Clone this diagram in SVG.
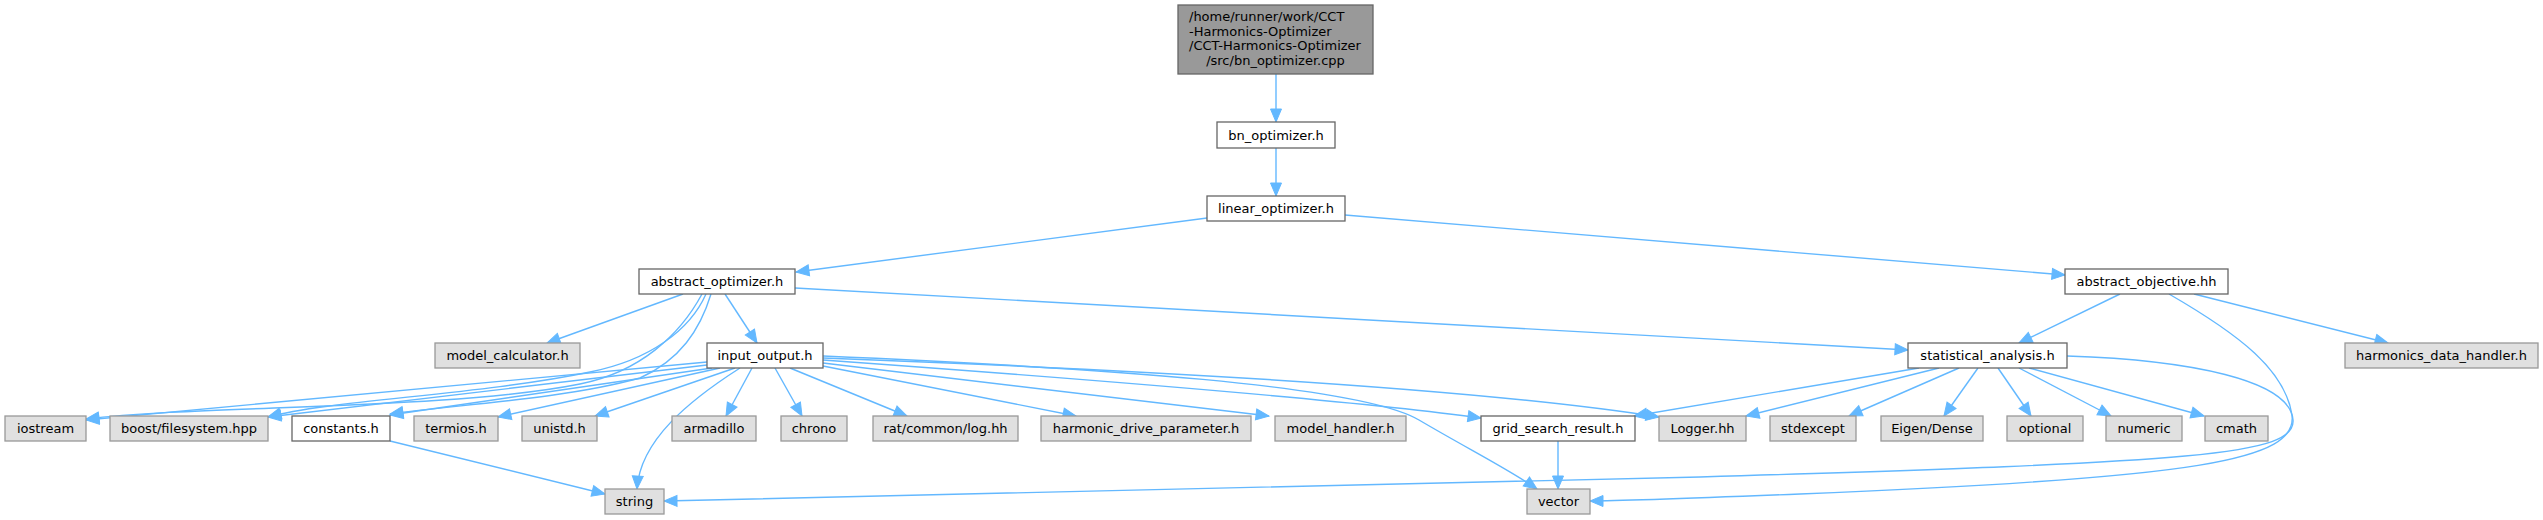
<svg xmlns="http://www.w3.org/2000/svg" width="2543" height="520" viewBox="0 0 2543 520">
<style>
text{font-family:"DejaVu Sans","Liberation Sans",sans-serif;font-size:13px;fill:#000;text-anchor:middle}
.w{fill:#ffffff;stroke:#666666;stroke-width:1.3}
.g{fill:#e0e0e0;stroke:#999999;stroke-width:1.3}
.r{fill:#999999;stroke:#666666;stroke-width:1.3}
#edges path{fill:none;stroke:#63b8ff;stroke-width:1.4;marker-end:url(#ah)}
</style>
<defs>
<marker id="ah" markerUnits="userSpaceOnUse" markerWidth="14" markerHeight="11" refX="13" refY="5.5" orient="auto" viewBox="0 0 14 11" overflow="visible">
<path d="M0,0 L13,5.5 L0,11 z" fill="#63b8ff" stroke="#63b8ff" stroke-width="1"/>
</marker>
</defs>
<rect width="2543" height="520" fill="#ffffff"/>
<g id="edges">
<path d="M1276,74 L1276,122"/>
<path d="M1276,148 L1276,196"/>
<path d="M1207,218 L796,272"/>
<path d="M1345,215 L2065,275"/>
<path d="M683,294 L547,343"/>
<path d="M725,294 L757,343"/>
<path d="M795,288 L1908,350"/>
<path d="M702,294 C680,335 640,372 580,384 C450,410 200,405 86,419"/>
<path d="M706,294 C690,330 650,360 590,372 C480,395 330,400 268,417"/>
<path d="M711,294 C700,330 680,360 640,378 C560,400 450,405 390,414"/>
<path d="M707,362 L86,420"/>
<path d="M707,365 L268,417"/>
<path d="M712,368 L390,415"/>
<path d="M720,368 L498,417"/>
<path d="M735,368 L595,416"/>
<path d="M740,368 C690,400 640,440 637,489"/>
<path d="M752,368 L726,416"/>
<path d="M775,368 L802,416"/>
<path d="M790,368 L907,416"/>
<path d="M823,366 L1076,416"/>
<path d="M823,363 L1269,416"/>
<path d="M823,360 C1100,380 1350,400 1481,418"/>
<path d="M823,358 C1200,372 1500,392 1659,417"/>
<path d="M823,356 C1100,368 1360,385 1419,420 C1470,450 1510,470 1537,489"/>
<path d="M1919,368 L1634,416"/>
<path d="M1939,368 L1746,416"/>
<path d="M1959,368 L1849,416"/>
<path d="M1978,368 L1944,416"/>
<path d="M1998,368 L2031,416"/>
<path d="M2019,368 L2111,416"/>
<path d="M2029,368 L2204,416"/>
<path d="M2067,356 C2190,360 2290,380 2293,420 C2296,455 2200,462 1700,477 C1200,490 800,500 664,501"/>
<path d="M2120,294 L2019,343"/>
<path d="M2194,294 L2388,343"/>
<path d="M2169,294 C2240,335 2285,370 2292,415 C2298,460 2200,478 1800,494 C1700,498 1620,501 1590,501"/>
<path d="M390,441 L605,494"/>
<path d="M1558,441 L1558,489"/>
</g>
<g id="n_root"><rect class="r" x="1178" y="5" width="195" height="69"/>
<text x="1189" y="21" style="text-anchor:start">/home/runner/work/CCT</text>
<text x="1189" y="35.5" style="text-anchor:start">-Harmonics-Optimizer</text>
<text x="1189" y="50" style="text-anchor:start">/CCT-Harmonics-Optimizer</text>
<text x="1275.5" y="64.5">/src/bn_optimizer.cpp</text></g>
<g id="n_bn_optimizer"><rect class="w" x="1217" y="122" width="118" height="26"/><text x="1276" y="139.5">bn_optimizer.h</text></g>
<g id="n_linear_optimizer"><rect class="w" x="1207" y="196" width="138" height="25"/><text x="1276" y="213">linear_optimizer.h</text></g>
<g id="n_abstract_optimizer"><rect class="w" x="639" y="269" width="156" height="25"/><text x="717" y="286">abstract_optimizer.h</text></g>
<g id="n_abstract_objective"><rect class="w" x="2065" y="269" width="163" height="25"/><text x="2146.5" y="286">abstract_objective.hh</text></g>
<g id="n_statistical_analysis"><rect class="w" x="1908" y="343" width="159" height="25"/><text x="1987.5" y="360">statistical_analysis.h</text></g>
<g id="n_harmonics_data_handler"><rect class="g" x="2345" y="343" width="193" height="25"/><text x="2441.5" y="360">harmonics_data_handler.h</text></g>
<g id="n_model_calculator"><rect class="g" x="435" y="343" width="145" height="25"/><text x="507.5" y="360">model_calculator.h</text></g>
<g id="n_input_output"><rect class="w" x="707" y="343" width="116" height="25"/><text x="765" y="360">input_output.h</text></g>
<g id="n_iostream"><rect class="g" x="5" y="416" width="81" height="25"/><text x="45.5" y="433">iostream</text></g>
<g id="n_boost_filesystem"><rect class="g" x="110" y="416" width="158" height="25"/><text x="189" y="433">boost/filesystem.hpp</text></g>
<g id="n_constants"><rect class="w" x="292" y="416" width="98" height="25"/><text x="341" y="433">constants.h</text></g>
<g id="n_termios"><rect class="g" x="414" y="416" width="84" height="25"/><text x="456" y="433">termios.h</text></g>
<g id="n_unistd"><rect class="g" x="522" y="416" width="75" height="25"/><text x="559.5" y="433">unistd.h</text></g>
<g id="n_armadillo"><rect class="g" x="672" y="416" width="84" height="25"/><text x="714" y="433">armadillo</text></g>
<g id="n_chrono"><rect class="g" x="781" y="416" width="66" height="25"/><text x="814" y="433">chrono</text></g>
<g id="n_rat_log"><rect class="g" x="873" y="416" width="145" height="25"/><text x="945.5" y="433">rat/common/log.hh</text></g>
<g id="n_harmonic_drive_parameter"><rect class="g" x="1041" y="416" width="210" height="25"/><text x="1146" y="433">harmonic_drive_parameter.h</text></g>
<g id="n_model_handler"><rect class="g" x="1275" y="416" width="131" height="25"/><text x="1340.5" y="433">model_handler.h</text></g>
<g id="n_grid_search_result"><rect class="w" x="1481" y="416" width="154" height="25"/><text x="1558" y="433">grid_search_result.h</text></g>
<g id="n_logger"><rect class="g" x="1659" y="416" width="87" height="25"/><text x="1702.5" y="433">Logger.hh</text></g>
<g id="n_stdexcept"><rect class="g" x="1770" y="416" width="86" height="25"/><text x="1813" y="433">stdexcept</text></g>
<g id="n_eigen_dense"><rect class="g" x="1881" y="416" width="102" height="25"/><text x="1932" y="433">Eigen/Dense</text></g>
<g id="n_optional"><rect class="g" x="2007" y="416" width="76" height="25"/><text x="2045" y="433">optional</text></g>
<g id="n_numeric"><rect class="g" x="2106" y="416" width="76" height="25"/><text x="2144" y="433">numeric</text></g>
<g id="n_cmath"><rect class="g" x="2205" y="416" width="63" height="25"/><text x="2236.5" y="433">cmath</text></g>
<g id="n_string"><rect class="g" x="605" y="489" width="59" height="25"/><text x="634.5" y="506">string</text></g>
<g id="n_vector"><rect class="g" x="1527" y="489" width="63" height="25"/><text x="1558.5" y="506">vector</text></g>
</svg>
